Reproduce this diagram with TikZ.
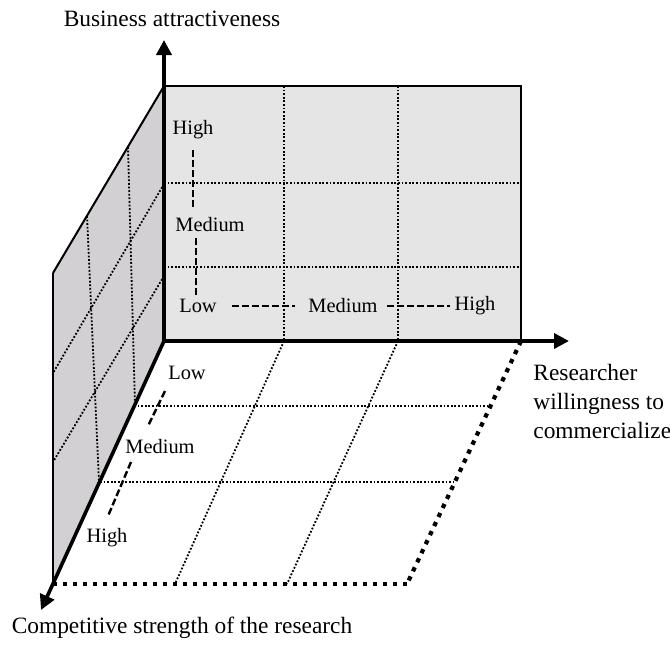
\documentclass[tikz,border=0pt]{standalone}
\usepackage{fontspec}
\setmainfont{Liberation Serif}
\usetikzlibrary{arrows.meta,calc}
\definecolor{WallBack}{HTML}{E5E5E5}
\definecolor{WallSide}{HTML}{D2D0D2}
\tikzset{
    % Axis arrow style
    axisarrow/.style={
        -{Triangle[length=7.5pt,width=7.5pt]},
        line width=1.8pt,
        draw=black
    },
    % Wall outline
    walledge/.style={
        line width=1.2pt,
        draw=black
    },
    % Thin dotted grid line
    gridline/.style={
        line width=0.9pt,
        dash pattern=on 0.9pt off 0.9pt
    },
    % Heavy dotted floor edge
    flooredge/.style={
        line width=2.1pt,
        dash pattern=on 2.2pt off 2.8pt
    },
    % Dashed guide between level labels
    guideline/.style={
        line width=1.2pt,
        dash pattern=on 3.5pt off 1.5pt
    },
    % Level label
    levellabel/.style={
        font=\fontsize{10.2}{12}\selectfont,
        inner sep=0pt
    },
    % Axis label
    axislabel/.style={
        font=\fontsize{11.7}{14.5}\selectfont,
        inner sep=0pt,
        align=left
    }
}

\begin{document}
\begin{tikzpicture}[x=0.5pt, y=-0.5pt]
    \useasboundingbox (0,0) rectangle (670,645);

    % corners
    \coordinate (O) at (164,341);
    \coordinate (top) at (164,86);
    \coordinate (backtr) at (521,86);
    \coordinate (backbr) at (521,341);
    \coordinate (sidetl) at (53,273);
    \coordinate (sidebl) at (53,584);
    \coordinate (floorbr) at (407,584);
    \coordinate (ytip) at (164,40);
    \coordinate (xtip) at (569,341);
    \coordinate (ztip) at (41,610);

    % walls
    \fill[WallBack] (top) rectangle (backbr);
    \fill[WallSide] (top) -- (sidetl) -- (sidebl) -- (O) -- cycle;

    % back wall grid
    \draw[gridline] (284,86) -- (284,341);
    \draw[gridline] (398,86) -- (398,341);
    \draw[gridline] (164,183) -- (521,183);
    \draw[gridline] (164,267) -- (521,267);

    % side wall grid
    \draw[gridline] (128,147) -- (135,405);
    \draw[gridline] (87,216) -- (99,482);
    \draw[gridline] (164,184) -- (53,373);
    \draw[gridline] (164,276) -- (53,462);

    % floor grid
    \draw[gridline] (134,406) -- (488,406);
    \draw[gridline] (100,482) -- (453,482);
    \draw[gridline] (284,341) -- (175,584);
    \draw[gridline] (398,341) -- (287,584);

    % edges
    \draw[walledge] (top) -- (backtr) -- (backbr);
    \draw[line width=1pt] (top) -- (sidetl);
    \draw[line width=0.6pt] (sidetl) -- (sidebl);
    \draw[flooredge] (backbr) -- (floorbr);
    \draw[flooredge] (sidebl) -- (floorbr);

    % axes
    \draw[axisarrow] (O) -- (ytip);
    \draw[axisarrow] (O) -- (xtip);
    \draw[axisarrow] (O) -- (ztip);

    % axis labels
    \node[axislabel] (ylab) at (172,19) {Business attractiveness};
    \node[axislabel, anchor=west] (xlab) at (533,401) {Researcher\\willingness to\\commercialize};
    \node[axislabel] (zlab) at (182,628) {Competitive strength of the research};

    % back wall levels
    \node[levellabel] (bhigh) at (193,130) {High};
    \node[levellabel] (bmedv) at (210,225) {Medium};
    \node[levellabel] (blow) at (198,306) {Low};
    \node[levellabel] (bmedh) at (343,306) {Medium};
    \node[levellabel] (bhighh) at (475,306) {High};

    % floor levels
    \node[levellabel] (flow) at (187,373) {Low};
    \node[levellabel] (fmed) at (160,447) {Medium};
    \node[levellabel] (fhigh) at (107,538) {High};

    \draw[guideline] ($(bhigh)+(0,20)$) -- ($(bmedv)+(-17,-18)$);
    \draw[guideline] ($(bmedv)+(-14,13)$) -- ($(blow)+(-2,-11)$);
    \draw[guideline] ($(blow)+(34,0)$) -- ($(bmedh)+(-48,0)$);
    \draw[guideline] ($(bmedh)+(44,0)$) -- ($(bhighh)+(-25,0)$);
    \draw[guideline] ($(flow)+(-22,18)$) -- ($(fmed)+(-12,-21)$);
    \draw[guideline] ($(fmed)+(-29,15)$) -- ($(fhigh)+(1,-22)$);
\end{tikzpicture}
\end{document}
